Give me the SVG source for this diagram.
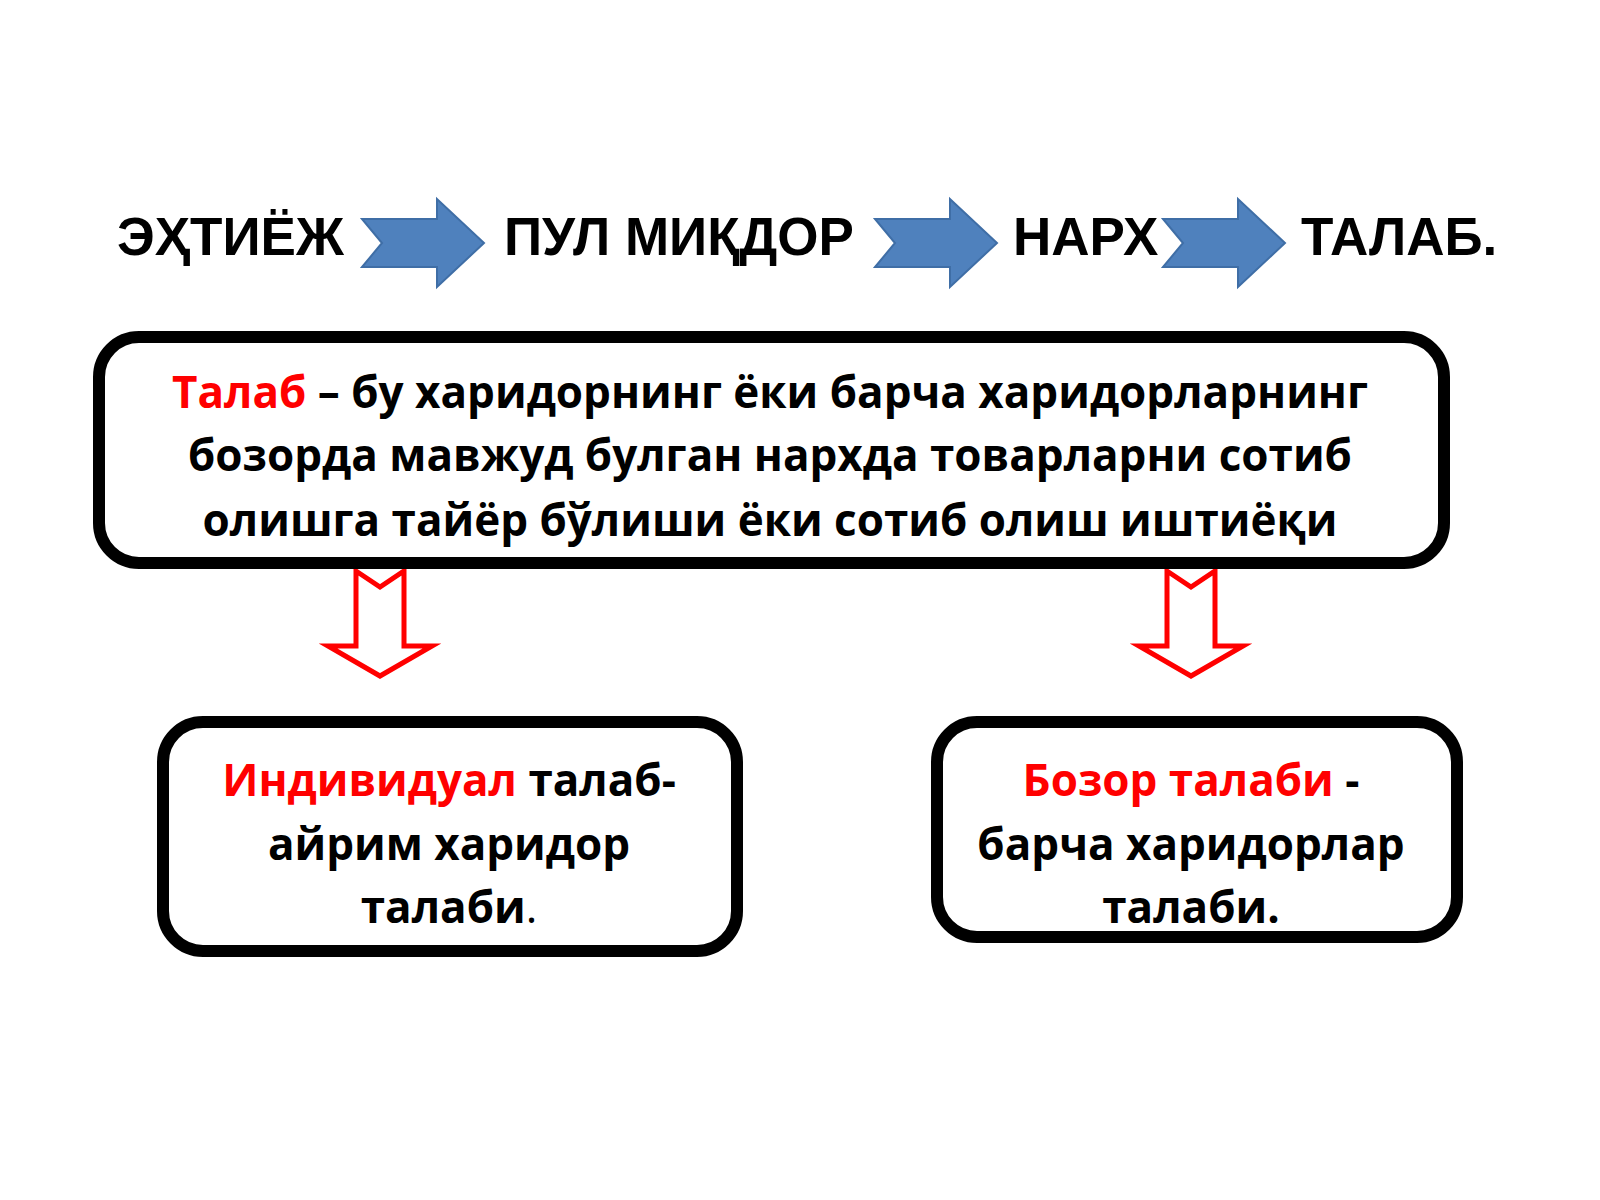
<svg xmlns="http://www.w3.org/2000/svg" width="1600" height="1200" viewBox="0 0 1600 1200">
<style>
.top{font-family:"Liberation Sans",Arial,sans-serif;font-weight:bold;font-size:53px;fill:#000}
.t{font-family:"Open Sans","Noto Sans",sans-serif;font-weight:bold;font-size:44px;fill:#000;text-anchor:middle}
.r{fill:#ff0000}
.box{fill:#fff;stroke:#000;stroke-width:12}
.blue{fill:#4f81bd;stroke:#3f6ea6;stroke-width:2}
.red{fill:#fff;stroke:#ff0000;stroke-width:5}
</style>
<defs>
<path id="ba" d="M0,20 L75,20 L75,0 L122,44 L75,88 L75,68 L0,68 L20,44 Z"/>
<path id="ra" d="M-24,0 L0,16 L24,0 L24,75 L52,75 L0,105 L-52,75 L-24,75 Z"/>
</defs>
<g id="top-row">
<text class="top" x="117" y="255">ЭҲТИЁЖ</text>
<text class="top" x="504" y="255">ПУЛ МИҚДОР</text>
<text class="top" x="1013" y="255">НАРХ</text>
<text class="top" x="1301" y="255">ТАЛАБ.</text>
</g>
<g id="connectors">
<use href="#ba" class="blue" x="362" y="199"/>
<use href="#ba" class="blue" x="875" y="199"/>
<use href="#ba" class="blue" x="1163" y="199"/>
<use href="#ra" class="red" x="380" y="571"/>
<use href="#ra" class="red" x="1191" y="571"/>
</g>
<g id="main">
<rect class="box" x="99" y="337" width="1345" height="226" rx="40"/>
<text class="t" x="770" y="408"><tspan class="r">Талаб</tspan> – бу харидорнинг ёки барча харидорларнинг</text>
<text class="t" x="770" y="471">бозорда мавжуд булган нархда товарларни сотиб</text>
<text class="t" x="770" y="536">олишга тайёр бўлиши  ёки  сотиб олиш иштиёқи</text>
</g>
<g id="individual">
<rect class="box" x="163" y="722" width="574" height="229" rx="40"/>
<text class="t" x="449" y="796"><tspan class="r">Индивидуал</tspan> талаб-</text>
<text class="t" x="449" y="860">айрим харидор</text>
<text class="t" x="449" y="923">талаби<tspan font-weight="normal">.</tspan></text>
</g>
<g id="market">
<rect class="box" x="937" y="722" width="520" height="215" rx="40"/>
<text class="t" x="1191" y="796"><tspan class="r">Бозор талаби</tspan> -</text>
<text class="t" x="1191" y="860">барча харидорлар</text>
<text class="t" x="1191" y="923">талаби.</text>
</g>
</svg>
